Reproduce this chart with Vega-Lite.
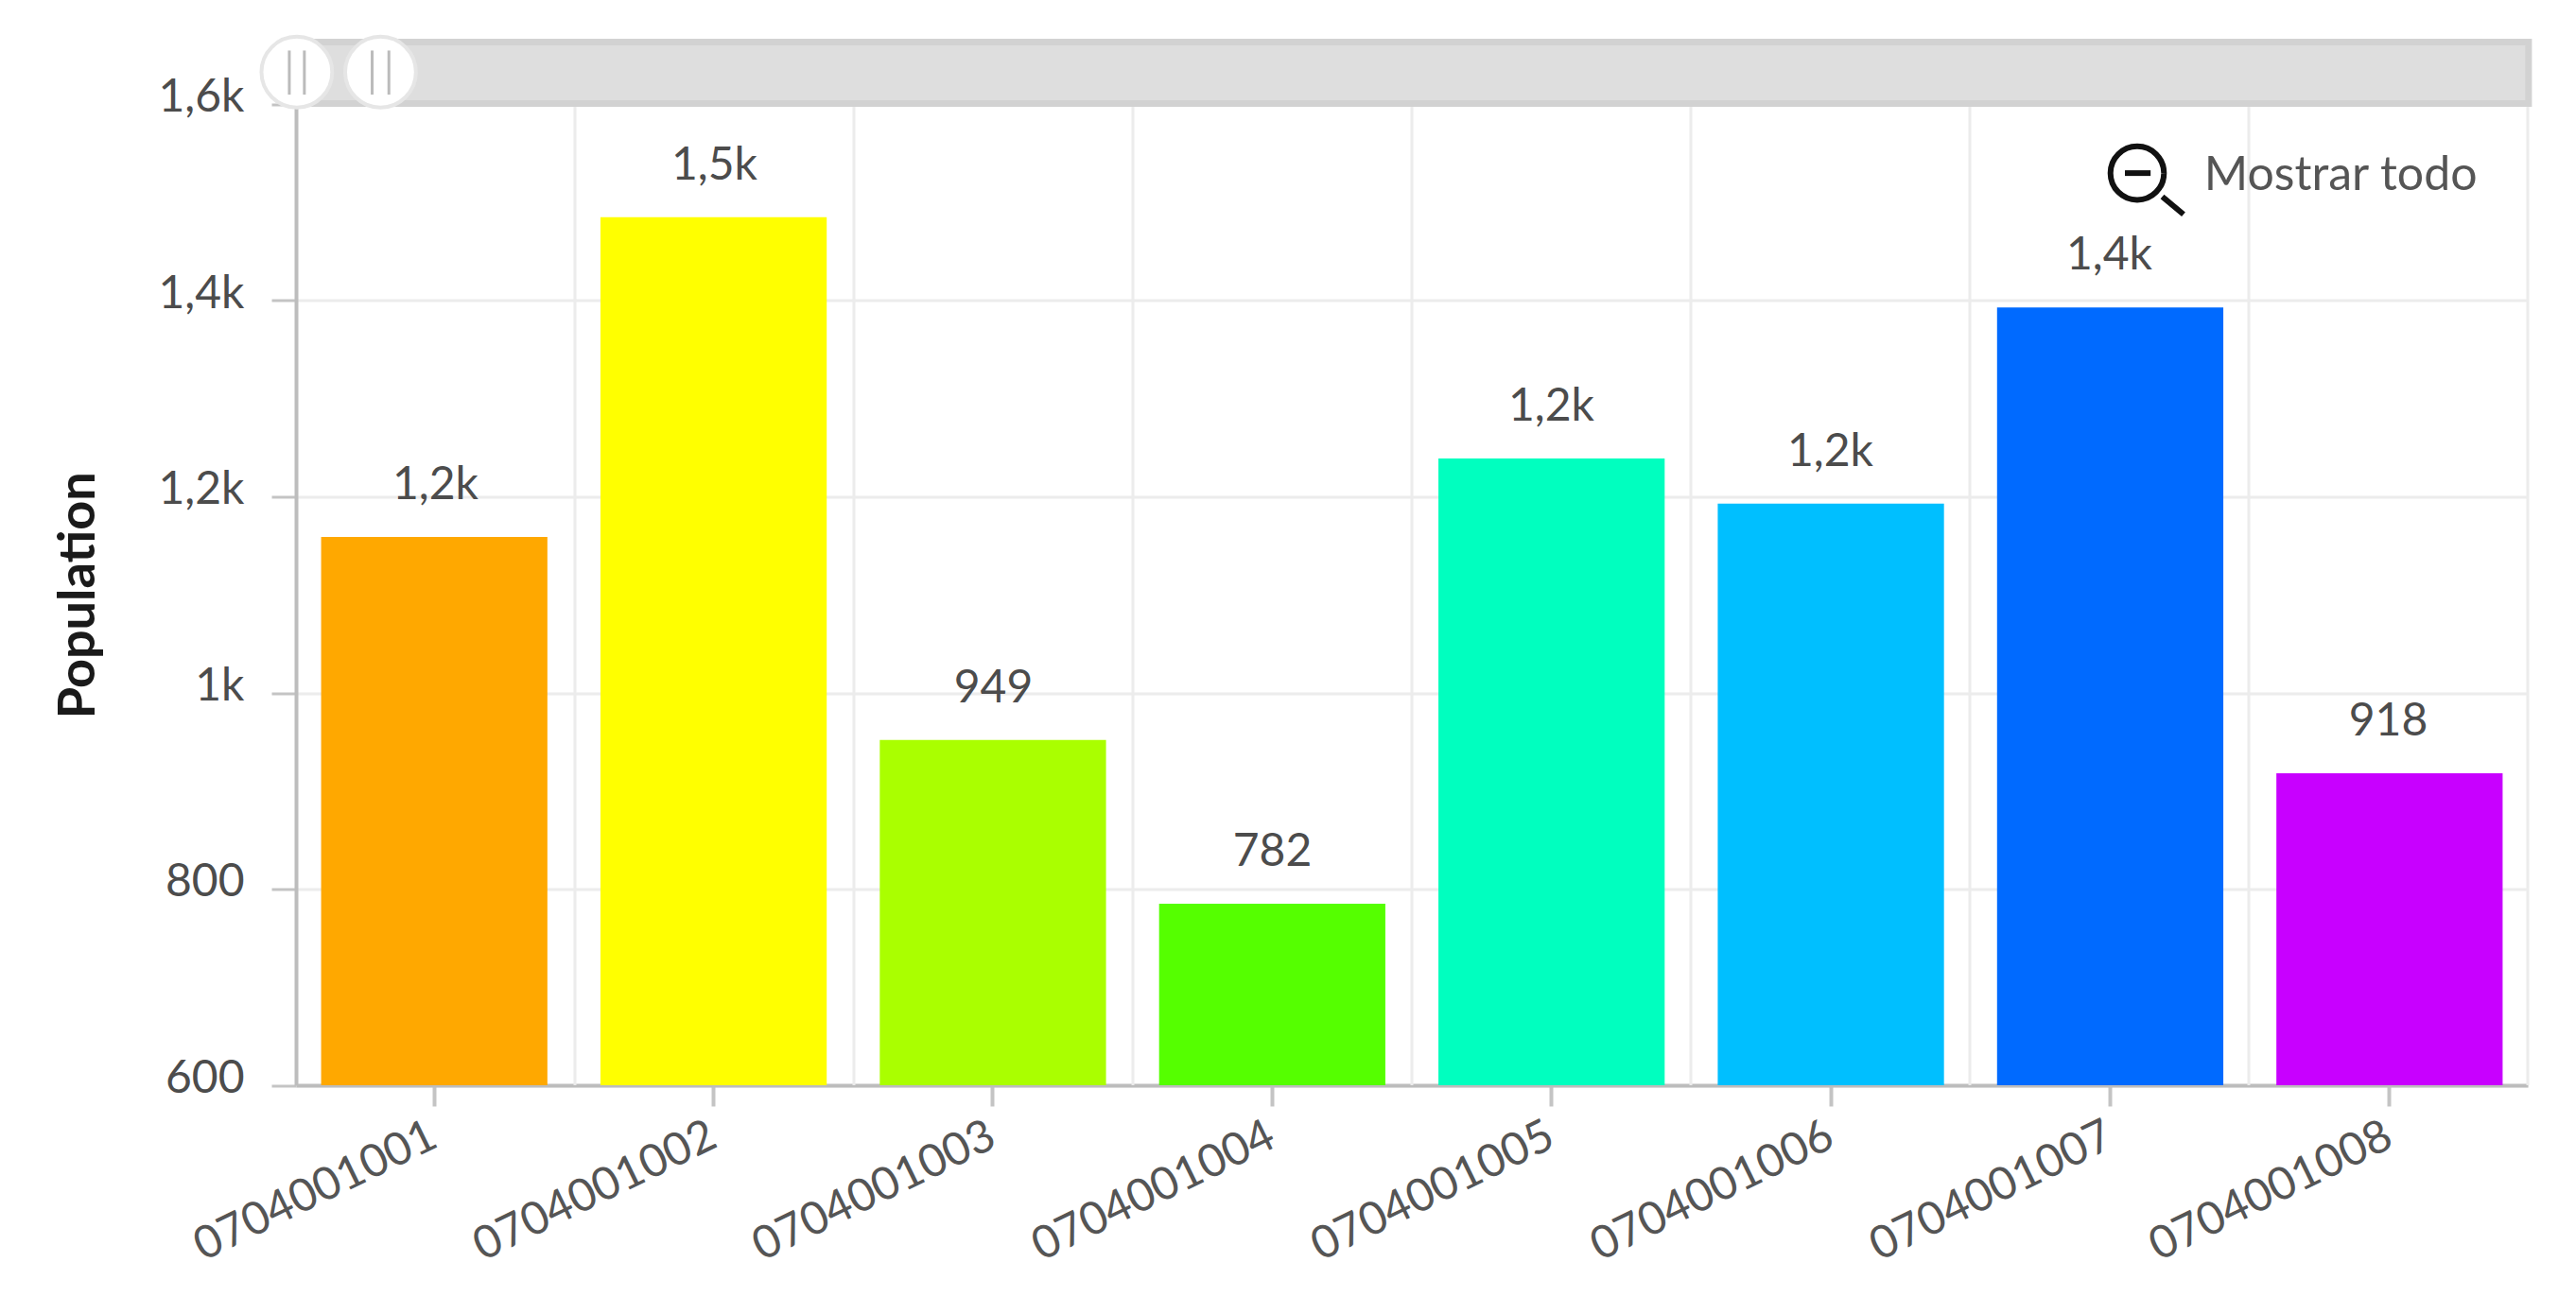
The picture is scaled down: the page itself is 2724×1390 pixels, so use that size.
{
"$schema":"https://vega.github.io/schema/vega-lite/v6.json",
"width":2360,"height":1037.5,
"autosize":"none",
"padding":{"left":313,"top":110.5,"right":51,"bottom":242},
"background":"white",
"config":{"font":"Lato","view":{"stroke":null}},
"datasets":{
"bars":[
{"id":"0704001001","population":1159,"base":600,"label":"1,2k"},
{"id":"0704001002","population":1485,"base":600,"label":"1,5k"},
{"id":"0704001003","population":952,"base":600,"label":"949"},
{"id":"0704001004","population":785,"base":600,"label":"782"},
{"id":"0704001005","population":1239,"base":600,"label":"1,2k"},
{"id":"0704001006","population":1193,"base":600,"label":"1,2k"},
{"id":"0704001007","population":1393,"base":600,"label":"1,4k"},
{"id":"0704001008","population":918,"base":600,"label":"918"}],
"grid":[{"b":1},{"b":2},{"b":3},{"b":4},{"b":5},{"b":6},{"b":7},{"b":8}],
"track":[{"a":0,"b":8.003,"lo":1600.9,"hi":1663.6}],
"handles":[{"a":0.003,"v":1633},{"a":0.303,"v":1633}],
"grips":[{"a":-0.024,"lo":1610,"hi":1655},{"a":0.03,"lo":1610,"hi":1655},{"a":0.273,"lo":1610,"hi":1655},{"a":0.333,"lo":1610,"hi":1655}],
"lens":[{"a":6.6,"v":1530}],
"lensLines":[{"a":6.556,"b":6.648,"lo":1530,"hi":1530,"w":6},{"a":6.69,"b":6.766,"lo":1506,"hi":1488,"w":6}],
"reset":[{"a":6.84,"v":1527,"t":"Mostrar todo"}]
},
"layer":[
{"data":{"name":"grid"},"mark":{"type":"rule","color":"#ececec","strokeWidth":3},
 "encoding":{"x":{"field":"b","type":"quantitative","scale":{"domain":[0,8],"nice":false,"zero":false},"axis":null},
 "y":{"datum":600,"type":"quantitative","scale":{"domain":[600,1600],"nice":false,"zero":false},"axis":null},"y2":{"datum":1600}}},
{"data":{"name":"bars"},"mark":{"type":"bar"},
 "encoding":{
 "x":{"field":"id","type":"nominal","sort":null,"title":null,"scale":{"paddingInner":0.19,"paddingOuter":0.09},
  "axis":{"grid":false,"labelAngle":-26,"labelAlign":"right","labelBaseline":"middle","labelFontSize":48,"labelColor":"#555555","labelPadding":29,"labelOverlap":false,"labelLimit":0,"labelFont":"Lato","domainColor":"#bdbdbd","domainWidth":4,"tickColor":"#c4c4c4","tickWidth":4,"tickSize":22}},
 "y":{"field":"population","type":"quantitative","title":"Population","scale":{"domain":[600,1600],"nice":false,"zero":false},
  "axis":{"values":[600,800,1000,1200,1400,1600],"labelExpr":"datum.value>=1000?replace(format(datum.value/1000,'.1~f'),'.',',')+'k':datum.value","labelFontSize":48,"labelColor":"#4c4c4c","labelPadding":29,"labelOffset":-7,"labelFont":"Lato","grid":true,"gridColor":"#ececec","gridWidth":3,"domainColor":"#bdbdbd","domainWidth":4,"tickColor":"#c4c4c4","tickWidth":3,"tickSize":26,"titleFontSize":54,"titleFontWeight":"bold","titleColor":"#1a1a1a","titleFont":"Lato","titlePadding":57}},
 "y2":{"field":"base"},
 "color":{"field":"id","type":"nominal","sort":null,"legend":null,"scale":{"range":["#FFA800","#FFFF00","#AAFF00","#55FF00","#00FFBF","#00BFFF","#006AFF","#C800FF"]}}}},
{"data":{"name":"bars"},"mark":{"type":"text","fontSize":48,"color":"#4c4c4c","baseline":"alphabetic","dy":-40,"font":"Lato"},
 "encoding":{"x":{"field":"id","type":"nominal","sort":null,"scale":{"paddingInner":0.19,"paddingOuter":0.09},"axis":null},
 "y":{"field":"population","type":"quantitative","scale":{"domain":[600,1600],"nice":false,"zero":false},"axis":null},
 "text":{"field":"label"}}},
{"data":{"name":"track"},"mark":{"type":"rect","fill":"#dedede","stroke":"#d2d2d2","strokeWidth":7},
 "encoding":{"x":{"field":"a","type":"quantitative","scale":{"domain":[0,8],"nice":false,"zero":false},"axis":null},"x2":{"field":"b"},
 "y":{"field":"lo","type":"quantitative","scale":{"domain":[600,1600],"nice":false,"zero":false},"axis":null},"y2":{"field":"hi"}}},
{"data":{"name":"handles"},"mark":{"type":"point","shape":"circle","filled":true,"fill":"#ffffff","fillOpacity":1,"stroke":"#e6e6e6","strokeWidth":4,"opacity":1,"size":5600},
 "encoding":{"x":{"field":"a","type":"quantitative","scale":{"domain":[0,8],"nice":false,"zero":false},"axis":null},
 "y":{"field":"v","type":"quantitative","scale":{"domain":[600,1600],"nice":false,"zero":false},"axis":null}}},
{"data":{"name":"grips"},"mark":{"type":"rule","color":"#bbbbbb","strokeWidth":3},
 "encoding":{"x":{"field":"a","type":"quantitative","scale":{"domain":[0,8],"nice":false,"zero":false},"axis":null},
 "y":{"field":"lo","type":"quantitative","scale":{"domain":[600,1600],"nice":false,"zero":false},"axis":null},"y2":{"field":"hi"}}},
{"data":{"name":"lens"},"mark":{"type":"point","shape":"circle","filled":false,"stroke":"#111111","strokeWidth":6,"opacity":1,"size":3200},
 "encoding":{"x":{"field":"a","type":"quantitative","scale":{"domain":[0,8],"nice":false,"zero":false},"axis":null},
 "y":{"field":"v","type":"quantitative","scale":{"domain":[600,1600],"nice":false,"zero":false},"axis":null}}},
{"data":{"name":"lensLines"},"mark":{"type":"rule","color":"#111111","strokeWidth":6},
 "encoding":{"x":{"field":"a","type":"quantitative","scale":{"domain":[0,8],"nice":false,"zero":false},"axis":null},"x2":{"field":"b"},
 "y":{"field":"lo","type":"quantitative","scale":{"domain":[600,1600],"nice":false,"zero":false},"axis":null},"y2":{"field":"hi"}}},
{"data":{"name":"reset"},"mark":{"type":"text","fontSize":50,"color":"#555555","align":"left","baseline":"middle","font":"Lato"},
 "encoding":{"x":{"field":"a","type":"quantitative","scale":{"domain":[0,8],"nice":false,"zero":false},"axis":null},
 "y":{"field":"v","type":"quantitative","scale":{"domain":[600,1600],"nice":false,"zero":false},"axis":null},"text":{"field":"t"}}}
],
"resolve":{"scale":{"x":"independent","y":"shared","color":"independent"},"axis":{"x":"independent","y":"independent"}}
}
